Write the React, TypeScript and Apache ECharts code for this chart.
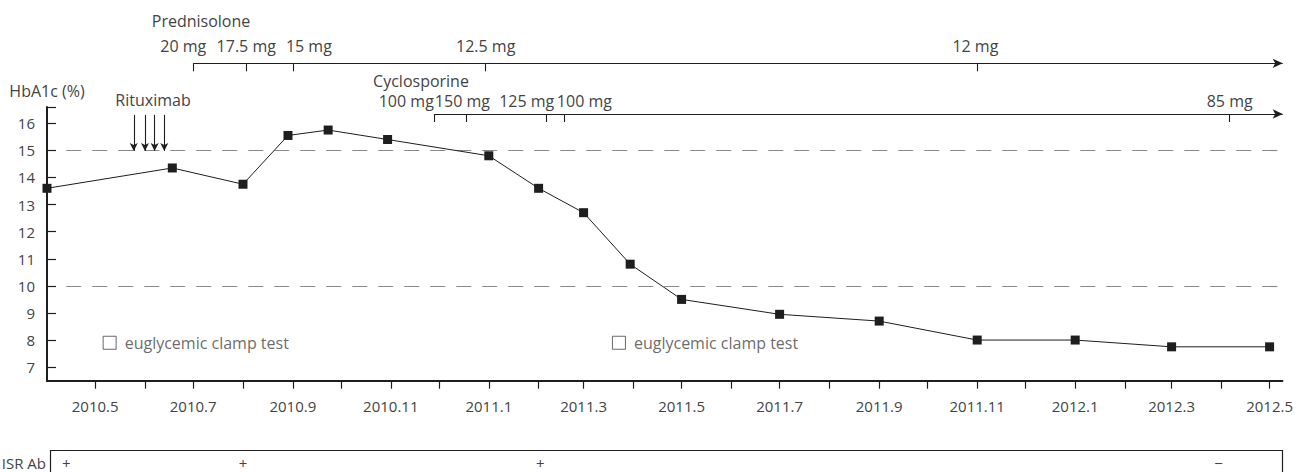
import React, { useEffect, useRef } from "react";
import * as echarts from "echarts";

// ---------- data ----------
const HBA1C_DATES = [
  "2010-04-01", "2010-06-18", "2010-08-01", "2010-08-29", "2010-09-23", "2010-10-30",
  "2011-01-01", "2011-02-01", "2011-03-01", "2011-03-30", "2011-05-01", "2011-07-01",
  "2011-09-01", "2011-11-01", "2012-01-01", "2012-03-01", "2012-05-01",
];
const HBA1C_VALUES = [13.6, 14.35, 13.75, 15.55, 15.75, 15.4, 14.8, 13.6, 12.7, 10.8, 9.5, 8.95, 8.7, 8.0, 8.0, 7.75, 7.75];

const X_TICK_LABELS = [
  "2010.5", "2010.7", "2010.9", "2010.11", "2011.1", "2011.3", "2011.5", "2011.7",
  "2011.9", "2011.11", "2012.1", "2012.3", "2012.5",
];
const Y_TICK_LABELS = [7, 8, 9, 10, 11, 12, 13, 14, 15, 16];
const THRESHOLDS = [15, 10];

const RITUXIMAB_DATES = ["2010-05-25", "2010-06-01", "2010-06-07", "2010-06-13"];

const PRED_DATES = ["2010-07-01", "2010-08-03", "2010-09-01", "2010-12-30", "2011-11-01"];
const PRED_DOSES = ["20 mg", "17.5 mg", "15 mg", "12.5 mg", "12 mg"];
const CYC_DATES = ["2010-11-28", "2010-12-18", "2011-02-06", "2011-02-17", "2012-04-06"];
const CYC_DOSES = ["100 mg", "150 mg", "125 mg", "100 mg", "85 mg"];

const CLAMP_DATES = ["2010-05-10", "2011-03-23"];
const CLAMP_LABEL = "euglycemic clamp test";

const ISR_DATES = ["2010-04-13", "2010-08-01", "2011-02-02", "2012-03-30"];
const ISR_RESULTS = ["+", "+", "+", "\u2212"];

// ---------- layout / style ----------
const AXIS_MIN = "2010-04-01";
const AXIS_MAX = "2012-05-09";
const DASH_START = "2010-04-13";
const PRED_LABEL_DX = [-10, 0, 16, 0, -2];
const CYC_LABEL_DX = [-28, -4, -20, 20, 0];
const FONT = "'Open Sans'";
const FONT_SIZE = 16;
const AXIS_FONT_SIZE = 15;
const TXT = "#444444";
const INK = "#1e1e1e";

const d = (s: string) => Date.parse(s + "T00:00:00Z");

function monthTicks(): number[] {
  const out: number[] = [];
  for (let y = 2010, m = 5; y < 2012 || (y === 2012 && m <= 5); ) {
    out.push(Date.UTC(y, m - 1, 1));
    m++;
    if (m > 12) { m = 1; y++; }
  }
  return out;
}
const labelToTime = (l: string) => {
  const [y, m] = l.split(".").map(Number);
  return Date.UTC(y, m - 1, 1);
};

export default function App() {
  const ref = useRef<HTMLDivElement>(null);
  useEffect(() => {
    if (!ref.current) return;
    const chart = echarts.init(ref.current, undefined, { renderer: "svg" });
    const xMin = d(AXIS_MIN);
    const xMax = d(AXIS_MAX);
    const gridLeft = 47;
    const gridRight = 13.3;
    const pxPerMs = (1296 - gridLeft - gridRight) / (xMax - xMin);
    const isrLeft = 50;
    const isrMin = xMin + (isrLeft - gridLeft) / pxPerMs;

    const textStyle = { fontFamily: FONT, fontWeight: 400, fontSize: FONT_SIZE, lineHeight: 17, color: TXT };
    const axisText = { ...textStyle, fontSize: AXIS_FONT_SIZE };
    const font = `400 ${FONT_SIZE}px ${FONT}`;
    const PRED_Y = 63.3, PRED_LBL_Y = 46, CYC_Y = 114, CYC_LBL_Y = 100.5, TICK_LEN = 8;

    const bracket = (dates: string[], rowY: number) => {
      const items: any[] = [
        [
          { coord: [d(dates[0]), rowY], symbol: "none" },
          { coord: [xMax, rowY], symbol: "arrow", symbolSize: [7, 10] },
        ],
      ];
      dates.forEach((dt) => {
        items.push([
          { coord: [d(dt), rowY], symbol: "none" },
          { coord: [d(dt), rowY + TICK_LEN], symbol: "none" },
        ]);
      });
      return items;
    };

    const option: any = {
      animation: false,
      textStyle: { fontFamily: FONT },
      grid: [
        { left: gridLeft, right: gridRight, top: 107, bottom: 91.3 },
        { left: isrLeft, right: gridRight, top: 450, height: 22 },
        { left: gridLeft, right: gridRight, top: 0, bottom: 0 },
      ],
      xAxis: [
        {
          type: "value", gridIndex: 0, min: xMin, max: xMax,
          splitLine: { show: false },
          axisLine: { show: true, lineStyle: { color: INK, width: 2 } },
          axisTick: { show: true, inside: false, length: 8, customValues: monthTicks(), lineStyle: { color: INK, width: 1.2 } },
          axisLabel: {
            show: true, margin: 17, customValues: X_TICK_LABELS.map(labelToTime),
            ...axisText,
            formatter: (v: number) => {
              const dt = new Date(v);
              return dt.getUTCFullYear() + "." + (dt.getUTCMonth() + 1);
            },
          },
        },
        { type: "value", gridIndex: 1, min: isrMin, max: xMax, show: false },
        { type: "value", gridIndex: 2, min: xMin, max: xMax, show: false },
      ],
      yAxis: [
        {
          type: "value", gridIndex: 0, min: 6.5, max: 16.6,
          name: "HbA1c (%)", nameLocation: "end", nameGap: 8,
          nameTextStyle: { ...textStyle, align: "center" },
          splitLine: { show: false },
          axisLine: { show: true, lineStyle: { color: INK, width: 2 } },
          axisTick: { show: true, inside: true, length: 9, customValues: [...Y_TICK_LABELS, 16.6], lineStyle: { color: INK, width: 1.2 } },
          axisLabel: { show: true, margin: 12, customValues: Y_TICK_LABELS, ...axisText },
        },
        { type: "value", gridIndex: 1, min: 0, max: 1, show: false },
        { type: "value", gridIndex: 2, min: 0, max: 472, inverse: true, show: false },
      ],
      series: [
        {
          name: "reference",
          type: "line", xAxisIndex: 0, yAxisIndex: 0, data: [], silent: true,
          markLine: {
            silent: true, symbol: ["none", "none"], label: { show: false },
            lineStyle: { color: "#8a8a8a", width: 1.2, type: [15, 11] },
            emphasis: { disabled: true },
            data: THRESHOLDS.map((t) => [{ coord: [d(DASH_START), t] }, { coord: [xMax, t] }]),
          },
        },
        {
          name: "Rituximab",
          type: "line", xAxisIndex: 0, yAxisIndex: 0, data: [], silent: true,
          markLine: {
            silent: true, label: { show: false }, emphasis: { disabled: true },
            lineStyle: { color: INK, width: 1.1, type: "solid" },
            data: RITUXIMAB_DATES.map((r) => [
              { coord: [d(r), 16.31], symbol: "none" },
              { coord: [d(r), 14.98], symbol: "arrow", symbolSize: [6, 8] },
            ]),
          },
        },
        {
          name: "HbA1c",
          type: "line", xAxisIndex: 0, yAxisIndex: 0, z: 5,
          data: HBA1C_DATES.map((dt, i) => [d(dt), HBA1C_VALUES[i]]),
          symbol: "rect", symbolSize: 9, showAllSymbol: true, clip: false,
          itemStyle: { color: INK },
          lineStyle: { color: INK, width: 1 },
        },
        {
          name: "clamp",
          type: "scatter", xAxisIndex: 0, yAxisIndex: 0,
          data: CLAMP_DATES.map((dt) => [d(dt), 7.9]),
          symbol: "rect", symbolSize: 13,
          itemStyle: { color: "#ffffff", borderColor: "#444", borderWidth: 1 },
          label: { show: true, position: "right", distance: 8, formatter: CLAMP_LABEL, ...textStyle },
        },
        {
          name: "ISR Ab",
          type: "scatter", xAxisIndex: 1, yAxisIndex: 1,
          data: ISR_DATES.map((dt, i) => ({ value: [d(dt), 0.42], name: ISR_RESULTS[i] })),
          symbolSize: 1, itemStyle: { color: "#ffffff", opacity: 0 },
          label: {
            show: true, position: "inside", formatter: (p: any) => p.name,
            ...textStyle, fontSize: 15, lineHeight: 15, color: TXT, opacity: 1, textBorderWidth: 0,
          },
          markLine: {
            silent: true, label: { show: false }, emphasis: { disabled: true },
            symbol: ["none", "none"],
            lineStyle: { color: INK, width: 1.2, type: "solid" },
            data: [
              [{ coord: [isrMin, 1] }, { coord: [xMax, 1] }],
              [{ coord: [isrMin, 1] }, { coord: [isrMin, 0] }],
              [{ coord: [xMax, 1] }, { coord: [xMax, 0] }],
            ],
          },
        },
        {
          name: "Prednisolone",
          type: "scatter", xAxisIndex: 2, yAxisIndex: 2,
          data: PRED_DATES.map((dt, i) => ({
            value: [d(dt), PRED_LBL_Y], name: PRED_DOSES[i],
            label: { offset: [PRED_LABEL_DX[i], 0] },
          })),
          symbolSize: 1, itemStyle: { color: "#ffffff", opacity: 0 },
          label: { show: true, position: "inside", formatter: (p: any) => p.name, ...textStyle, opacity: 1 },
          markLine: {
            silent: true, label: { show: false }, emphasis: { disabled: true },
            lineStyle: { color: INK, width: 1.1, type: "solid" },
            data: bracket(PRED_DATES, PRED_Y),
          },
        },
        {
          name: "Cyclosporine",
          type: "scatter", xAxisIndex: 2, yAxisIndex: 2,
          data: CYC_DATES.map((dt, i) => ({
            value: [d(dt), CYC_LBL_Y], name: CYC_DOSES[i],
            label: { offset: [CYC_LABEL_DX[i], 0] },
          })),
          symbolSize: 1, itemStyle: { color: "#ffffff", opacity: 0 },
          label: { show: true, position: "inside", formatter: (p: any) => p.name, ...textStyle, opacity: 1 },
          markLine: {
            silent: true, label: { show: false }, emphasis: { disabled: true },
            lineStyle: { color: INK, width: 1.1, type: "solid" },
            data: bracket(CYC_DATES, CYC_Y),
          },
        },
      ],
      graphic: [
        { type: "text", x: 201, y: 21, style: { text: "Prednisolone", fill: TXT, align: "center", verticalAlign: "middle", font, lineHeight: 17 } },
        { type: "text", x: 421, y: 80.5, style: { text: "Cyclosporine", fill: TXT, align: "center", verticalAlign: "middle", font, lineHeight: 17 } },
        { type: "text", x: 153, y: 100, style: { text: "Rituximab", fill: TXT, align: "center", verticalAlign: "middle", font, lineHeight: 17 } },
        { type: "text", x: 46, y: 463, style: { text: "ISR Ab", fill: TXT, align: "right", verticalAlign: "middle", font: `400 15px ${FONT}`, lineHeight: 16 } },
      ],
    };
    chart.setOption(option);
    return () => chart.dispose();
  }, []);
  return (
    <div
      ref={ref}
      style={{ position: "fixed", left: 0, top: 0, width: 1296, height: 472, background: "#fff" }}
    />
  );
}
